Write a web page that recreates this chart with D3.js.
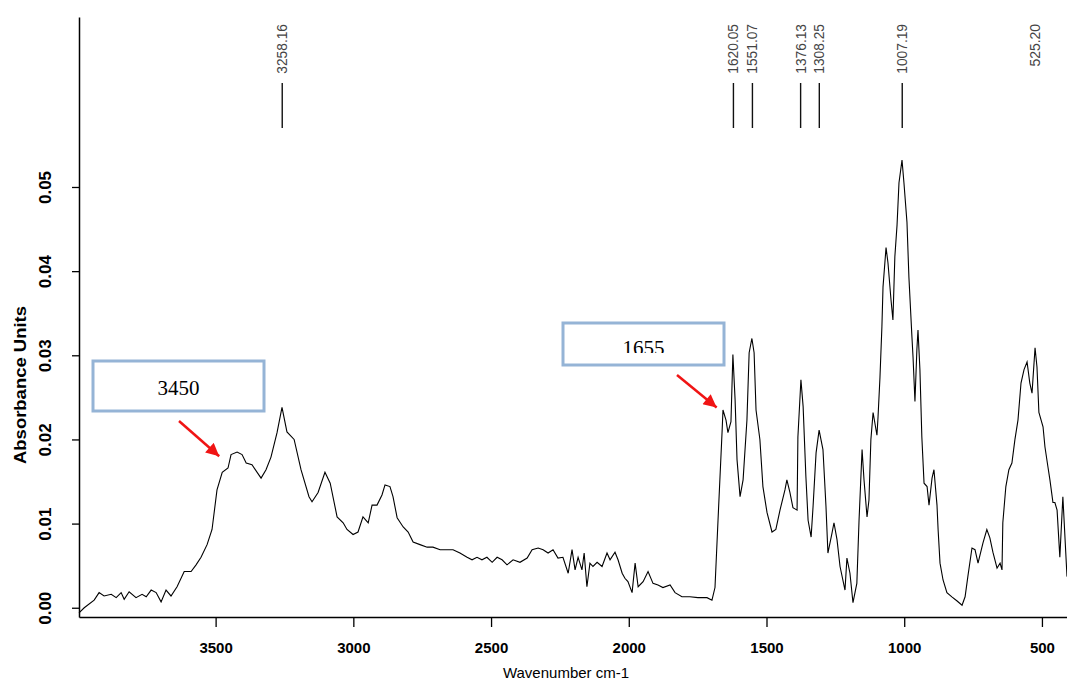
<!DOCTYPE html>
<html>
<head>
<meta charset="utf-8">
<script src="https://cdn.jsdelivr.net/npm/d3@7"></script>
<style>
  html, body { margin: 0; padding: 0; background: #fff; }
  svg { display: block; }
</style>
</head>
<body>
<div id="chart"></div>
<script>
// 光谱数据：波数 (cm-1) 与吸光度
var wavenumbers = [
  3996, 3977, 3941, 3923, 3905, 3879, 3861, 3843, 3832, 3814,
  3789, 3767, 3752, 3734, 3716, 3698, 3680, 3662, 3640, 3614,
  3589, 3571, 3553, 3531, 3513, 3495, 3476, 3455, 3444, 3422,
  3404, 3389, 3368, 3335, 3317, 3299, 3277, 3259, 3241, 3215,
  3190, 3161, 3150, 3128, 3103, 3084, 3059, 3037, 3023, 3001,
  2983, 2965, 2946, 2932, 2914, 2896, 2885, 2867, 2856, 2841,
  2819, 2801, 2783, 2758, 2732, 2711, 2685, 2660, 2638, 2613,
  2587, 2569, 2551, 2533, 2515, 2496, 2478, 2460, 2442, 2420,
  2395, 2369, 2351, 2329, 2311, 2293, 2275, 2257, 2239, 2220,
  2206, 2195, 2184, 2170, 2162, 2152, 2141, 2130, 2115, 2097,
  2079, 2068, 2050, 2039, 2024, 2014, 2003, 1988, 1977, 1966,
  1948, 1930, 1912, 1894, 1876, 1850, 1832, 1807, 1778, 1749,
  1716, 1698, 1687, 1676, 1661, 1658, 1647, 1640, 1629, 1622,
  1614, 1607, 1596, 1585, 1571, 1563, 1553, 1545, 1538, 1524,
  1513, 1498, 1480, 1466, 1451, 1433, 1426, 1415, 1404, 1389,
  1386, 1375, 1367, 1357, 1349, 1338, 1331, 1320, 1309, 1295,
  1284, 1277, 1262, 1255, 1244, 1233, 1215, 1208, 1197, 1186,
  1172, 1164, 1153, 1146, 1135, 1128, 1121, 1113, 1099, 1095,
  1088, 1081, 1077, 1066, 1059, 1048, 1041, 1034, 1026, 1019,
  1008, 1001, 990, 983, 972, 968, 961, 954, 950, 943,
  936, 928, 917, 910, 899, 892, 881, 877, 870, 859,
  845, 827, 808, 790, 779, 769, 754, 743, 732, 714,
  700, 689, 678, 663, 652, 645, 642, 631, 620, 609,
  598, 587, 576, 565, 554, 544, 536, 525, 518, 511,
  496, 489, 478, 471, 460, 453, 445, 435, 424, 409
]
var absorbance = [
  -0.0006, 0.0000, 0.0009, 0.0018, 0.0014, 0.0016, 0.0012, 0.0018, 0.0010, 0.0019,
  0.0012, 0.0016, 0.0013, 0.0021, 0.0018, 0.0007, 0.0021, 0.0014, 0.0025, 0.0043,
  0.0043, 0.0051, 0.0060, 0.0075, 0.0093, 0.0140, 0.0161, 0.0166, 0.0182, 0.0185,
  0.0182, 0.0172, 0.0170, 0.0154, 0.0164, 0.0179, 0.0208, 0.0238, 0.0209, 0.0200,
  0.0164, 0.0132, 0.0126, 0.0137, 0.0161, 0.0148, 0.0108, 0.0101, 0.0093, 0.0087,
  0.0090, 0.0108, 0.0101, 0.0122, 0.0122, 0.0134, 0.0146, 0.0144, 0.0132, 0.0107,
  0.0096, 0.0090, 0.0078, 0.0075, 0.0072, 0.0072, 0.0069, 0.0069, 0.0069, 0.0065,
  0.0060, 0.0057, 0.0060, 0.0057, 0.0060, 0.0054, 0.0060, 0.0057, 0.0051, 0.0057,
  0.0054, 0.0059, 0.0069, 0.0071, 0.0069, 0.0065, 0.0069, 0.0059, 0.0060, 0.0041,
  0.0069, 0.0045, 0.0060, 0.0045, 0.0065, 0.0025, 0.0053, 0.0049, 0.0054, 0.0049,
  0.0065, 0.0057, 0.0066, 0.0057, 0.0041, 0.0035, 0.0031, 0.0018, 0.0053, 0.0025,
  0.0031, 0.0043, 0.0029, 0.0027, 0.0024, 0.0027, 0.0018, 0.0013, 0.0013, 0.0012,
  0.0012, 0.0009, 0.0024, 0.0104, 0.0211, 0.0235, 0.0223, 0.0208, 0.0221, 0.0301,
  0.0247, 0.0176, 0.0132, 0.0152, 0.0223, 0.0303, 0.0320, 0.0303, 0.0235, 0.0200,
  0.0144, 0.0113, 0.0090, 0.0093, 0.0116, 0.0140, 0.0152, 0.0137, 0.0119, 0.0116,
  0.0203, 0.0271, 0.0239, 0.0156, 0.0104, 0.0084, 0.0120, 0.0184, 0.0211, 0.0188,
  0.0120, 0.0065, 0.0089, 0.0101, 0.0081, 0.0049, 0.0021, 0.0059, 0.0041, 0.0006,
  0.0029, 0.0104, 0.0188, 0.0152, 0.0108, 0.0128, 0.0200, 0.0232, 0.0205, 0.0227,
  0.0274, 0.0334, 0.0381, 0.0428, 0.0410, 0.0366, 0.0342, 0.0417, 0.0455, 0.0505,
  0.0532, 0.0505, 0.0458, 0.0393, 0.0322, 0.0298, 0.0245, 0.0307, 0.0330, 0.0283,
  0.0203, 0.0148, 0.0144, 0.0122, 0.0154, 0.0164, 0.0122, 0.0093, 0.0053, 0.0033,
  0.0018, 0.0013, 0.0008, 0.0003, 0.0013, 0.0037, 0.0071, 0.0069, 0.0053, 0.0077,
  0.0093, 0.0083, 0.0066, 0.0047, 0.0053, 0.0045, 0.0101, 0.0144, 0.0164, 0.0172,
  0.0200, 0.0223, 0.0267, 0.0283, 0.0292, 0.0267, 0.0255, 0.0309, 0.0286, 0.0232,
  0.0215, 0.0191, 0.0167, 0.0152, 0.0125, 0.0125, 0.0116, 0.0060, 0.0132, 0.0037
]

// 坐标轴刻度
var xTicks = [3500, 3000, 2500, 2000, 1500, 1000, 500]
var yTicks = [0, 0.01, 0.02, 0.03, 0.04, 0.05]

// 峰位标注
var peakPositions = [3258.16, 1620.05, 1551.07, 1376.13, 1308.25, 1007.19, 525.20]
var peakLabels = ['3258.16', '1620.05', '1551.07', '1376.13', '1308.25', '1007.19', '525.20']
var peakHasTick = [true, true, true, true, true, true, false]

// 文本框标注及箭头所指位置 [波数, 吸光度]
var calloutLabels = ['3450', '1655']
var calloutTargets = [[3487, 0.0180], [1681, 0.0238]]

/**
 *  默认配置项
 */
var config = {
  width: 1067,
  height: 682,
  plot: { left: 79, top: 17, right: 1067, bottom: 617 },
  xDomain: [3996, 409],
  yDomain: [-0.0011, 0.0702],
  peakTick: { y1: 83, y2: 128, labelY: 24 },
  callouts: [
    { box: [93, 361, 171, 50], from: [179, 421], textY: 395 },
    { box: [563, 323, 161, 42], from: [677, 375], textY: 355 }
  ],
  boxStroke: '#95b4d6',
  arrowColor: '#f01414',
  font: '"Liberation Sans", Arial, sans-serif'
}

var svg = d3.select('#chart').append('svg')
  .attr('width', config.width)
  .attr('height', config.height)
  .style('font-family', config.font)

var x = d3.scaleLinear().domain(config.xDomain).range([config.plot.left, config.plot.right])
var y = d3.scaleLinear().domain(config.yDomain).range([config.plot.bottom, config.plot.top])

// 箭头
var defs = svg.append('defs')
defs.append('marker')
  .attr('id', 'arrowHead')
  .attr('viewBox', '0 0 10 10')
  .attr('refX', 10).attr('refY', 5)
  .attr('markerUnits', 'userSpaceOnUse')
  .attr('markerWidth', 15).attr('markerHeight', 13)
  .attr('orient', 'auto')
  .append('path')
  .attr('d', 'M0,0 L10,5 L0,10 Z')
  .attr('fill', config.arrowColor)
defs.append('clipPath').attr('id', 'box2clip')
  .append('rect')
  .attr('x', 563).attr('y', 323).attr('width', 161).attr('height', 30)

// x 轴
var xAxis = svg.append('g')
  .attr('transform', 'translate(0,' + config.plot.bottom + ')')
  .call(d3.axisBottom(x).tickValues(xTicks).tickSize(10).tickSizeOuter(0).tickFormat(d3.format('d')))
xAxis.select('.domain').attr('stroke-width', 1.5)
xAxis.selectAll('line').attr('stroke-width', 1.3)
xAxis.selectAll('text')
  .attr('y', 31).attr('dy', '0.35em')
  .attr('font-size', 15).attr('font-weight', 'bold')
  .attr('font-family', config.font)

// y 轴
var yAxis = svg.append('g')
  .attr('transform', 'translate(' + config.plot.left + ',0)')
  .call(d3.axisLeft(y).tickValues(yTicks).tickSize(7).tickSizeOuter(0).tickFormat(d3.format('.2f')))
yAxis.select('.domain').attr('stroke-width', 1.5)
yAxis.selectAll('line').attr('stroke-width', 1.3)
yAxis.selectAll('text')
  .attr('x', 0).attr('y', 0).attr('dy', '0.35em')
  .attr('text-anchor', 'middle')
  .attr('transform', 'translate(-34,0) rotate(-90)')
  .attr('font-size', 17).attr('font-weight', 'bold')
  .attr('font-family', config.font)

// 轴标题
svg.append('text')
  .attr('x', 566).attr('y', 673).attr('dy', '0.35em')
  .attr('text-anchor', 'middle')
  .attr('font-size', 15)
  .text('Wavenumber cm-1')
svg.append('text')
  .attr('transform', 'translate(20,385) rotate(-90)')
  .attr('dy', '0.35em')
  .attr('text-anchor', 'middle')
  .attr('font-size', 17).attr('font-weight', 'bold')
  .attr('textLength', 158)
  .attr('lengthAdjust', 'spacingAndGlyphs')
  .text('Absorbance Units')

// 光谱曲线
var spectrum = wavenumbers.map(function(w, i) { return [w, absorbance[i]] })
svg.append('path')
  .datum(spectrum)
  .attr('fill', 'none')
  .attr('stroke', '#000')
  .attr('stroke-width', 1.1)
  .attr('d', d3.line().x(function(d) { return x(d[0]) }).y(function(d) { return y(d[1]) }))

// 峰位竖线和数值
var peaks = svg.append('g').selectAll('g')
  .data(peakPositions)
  .enter().append('g')
peaks.filter(function(d, i) { return peakHasTick[i] })
  .append('line')
  .attr('x1', function(d) { return x(d) }).attr('x2', function(d) { return x(d) })
  .attr('y1', config.peakTick.y1).attr('y2', config.peakTick.y2)
  .attr('stroke', '#111').attr('stroke-width', 1.4)
peaks.append('text')
  .attr('transform', function(d) { return 'translate(' + x(d) + ',' + config.peakTick.labelY + ') rotate(-90)' })
  .attr('dy', '0.35em')
  .attr('text-anchor', 'end')
  .attr('font-size', 14)
  .attr('fill', '#444')
  .attr('textLength', function(d, i) { return peakLabels[i].length * 7.1 })
  .attr('lengthAdjust', 'spacingAndGlyphs')
  .text(function(d, i) { return peakLabels[i] })

// 文本框与红色箭头
calloutLabels.forEach(function(label, i) {
  var c = config.callouts[i]
  var g = svg.append('g')
  g.append('rect')
    .attr('x', c.box[0]).attr('y', c.box[1])
    .attr('width', c.box[2]).attr('height', c.box[3])
    .attr('fill', '#fff')
    .attr('stroke', config.boxStroke).attr('stroke-width', 3)
  g.append('text')
    .attr('x', c.box[0] + c.box[2] / 2).attr('y', c.textY)
    .attr('text-anchor', 'middle')
    .attr('font-family', '"Liberation Serif", "Times New Roman", serif')
    .attr('font-size', 21)
    .attr('clip-path', i === 1 ? 'url(#box2clip)' : null)
    .text(label)
  g.append('line')
    .attr('x1', c.from[0]).attr('y1', c.from[1])
    .attr('x2', x(calloutTargets[i][0])).attr('y2', y(calloutTargets[i][1]))
    .attr('stroke', config.arrowColor).attr('stroke-width', 2.5)
    .attr('marker-end', 'url(#arrowHead)')
})
</script>
</body>
</html>
